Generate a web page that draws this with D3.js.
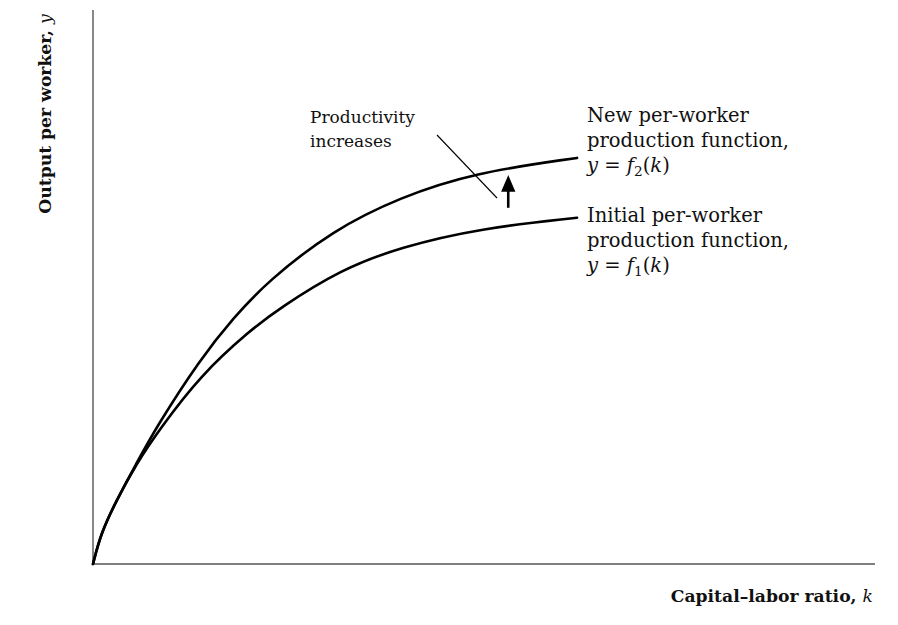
<!DOCTYPE html>
<html>
<head>
<meta charset="utf-8">
<script src="https://cdn.jsdelivr.net/npm/d3@7"></script>
<style>
  body { margin: 0; background: #fff; }
  svg text { font-family: "DejaVu Serif", "Liberation Serif", serif; fill: #111; }
</style>
</head>
<body>
<svg id="chart" width="898" height="625"></svg>
<script>
// capital-labor ratio k and output y (arbitrary units, 0..100)
const kInitial = [0, 1, 3, 5.5, 8.5, 13.7, 20.1, 23.9, 31.6, 39.3, 49.5, 61.9];
const yInitial = [0, 5.5, 11.5, 18, 24.3, 34, 42.2, 46.2, 53.1, 57.2, 60.6, 62.5];
const kNew = [0, 1, 3, 5.5, 8, 13.7, 18, 22.3, 30.7, 39.3, 48.6, 61.9];
const yNew = [0, 5.5, 11.5, 18, 24.5, 37, 44.5, 51, 60.3, 66.2, 70.6, 73.3];

// arrow showing the shift, in data units
const shiftK = 53.1;
const shiftFrom = 64.3;
const shiftTo = 69.5;

const svg = d3.select("#chart");

const x = d3.scaleLinear().domain([0, 100]).range([93, 875]);
const y = d3.scaleLinear().domain([0, 100]).range([564, 10]);

// axes (plain lines, no ticks)
svg.append("line")
  .attr("x1", x(0)).attr("x2", x(0))
  .attr("y1", y(0)).attr("y2", y(100))
  .attr("stroke", "#555").attr("stroke-width", 1.4);
svg.append("line")
  .attr("x1", x(0)).attr("x2", x(100))
  .attr("y1", y(0)).attr("y2", y(0))
  .attr("stroke", "#555").attr("stroke-width", 1.4);

const line = d3.line()
  .x((d) => x(d[0]))
  .y((d) => y(d[1]))
  .curve(d3.curveBasis);

const curves = [
  d3.zip(kInitial, yInitial),
  d3.zip(kNew, yNew),
];

svg.selectAll("path.curve")
  .data(curves)
  .join("path")
  .attr("class", "curve")
  .attr("d", line)
  .attr("fill", "none")
  .attr("stroke", "#000")
  .attr("stroke-width", 2.6)
  .attr("stroke-linecap", "round");

// leader line from the annotation to the new curve
svg.append("line")
  .attr("x1", 437).attr("y1", 135)
  .attr("x2", 497).attr("y2", 198)
  .attr("stroke", "#000").attr("stroke-width", 1.1);

// up arrow
const ax = x(shiftK);
svg.append("line")
  .attr("x1", ax).attr("x2", ax)
  .attr("y1", y(shiftFrom)).attr("y2", y(shiftTo) + 10)
  .attr("stroke", "#000").attr("stroke-width", 2.6);
svg.append("path")
  .attr("d", `M${ax},${y(shiftTo) - 2} L${ax - 6},${y(shiftTo) + 12} L${ax + 6},${y(shiftTo) + 12} Z`)
  .attr("fill", "#000").attr("stroke", "#000").attr("stroke-width", 1.5);

// axis titles
svg.append("text")
  .attr("transform", "translate(51,114) rotate(-90)")
  .attr("text-anchor", "middle")
  .attr("font-size", 17.2)
  .attr("font-weight", "bold")
  .call((t) => {
    t.append("tspan").text("Output per worker, ");
    t.append("tspan").attr("font-style", "italic").attr("font-weight", "normal").text("y");
  });

svg.append("text")
  .attr("x", 873).attr("y", 602)
  .attr("text-anchor", "end")
  .attr("font-size", 17.2)
  .attr("font-weight", "bold")
  .call((t) => {
    t.append("tspan").text("Capital\u2013labor ratio, ");
    t.append("tspan").attr("font-style", "italic").attr("font-weight", "normal").text("k");
  });

// annotation
const note = svg.append("text").attr("font-size", 17);
note.append("tspan").attr("x", 310).attr("y", 123).text("Productivity");
note.append("tspan").attr("x", 310).attr("y", 147).text("increases");

// curve labels
function curveLabel(top, first, sub) {
  const g = svg.append("text").attr("font-size", 19.5);
  g.append("tspan").attr("x", 587).attr("y", top).text(first);
  g.append("tspan").attr("x", 587).attr("y", top + 25).text("production function,");
  const l3 = g.append("tspan").attr("x", 587).attr("y", top + 50);
  l3.append("tspan").attr("font-style", "italic").text("y");
  l3.append("tspan").text(" = ");
  l3.append("tspan").attr("font-style", "italic").text("f");
  l3.append("tspan").attr("font-size", "0.7em").attr("dy", 4).text(sub);
  l3.append("tspan").attr("dy", -4).text("(");
  l3.append("tspan").attr("font-style", "italic").text("k");
  l3.append("tspan").text(")");
}
curveLabel(122, "New per-worker", "2");
curveLabel(222, "Initial per-worker", "1");
</script>
</body>
</html>
